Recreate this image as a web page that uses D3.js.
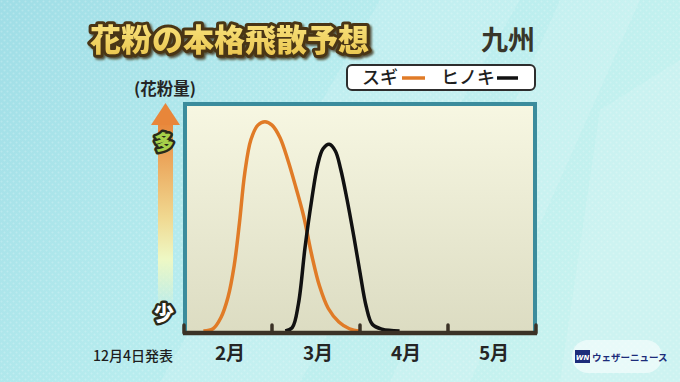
<!DOCTYPE html>
<html><head><meta charset="utf-8">
<script src="https://cdn.jsdelivr.net/npm/d3@7"></script>
<style>html,body{margin:0;padding:0;background:#b6e9ec;}svg{display:block;}</style>
</head><body>
<svg id="c" width="680" height="382"></svg>
<script>
const months = ["2月","3月","4月","5月"];
// x in month units from Feb 1 (0); values 0..100 relative pollen amount
const sugiX = [0.22,0.33,0.42,0.50,0.57,0.63,0.69,0.76,0.84,0.92,1.00,1.09,1.18,1.27,1.36,1.45,1.54,1.64,1.76,1.88,2.0];
const sugiV = [0,1,6,15,29,48,70,85,91.5,93,91.5,86,76,64,51,34,20,10,4,1,0];
const hinokiX = [1.15,1.23,1.30,1.375,1.45,1.52,1.58,1.65,1.72,1.78,1.85,1.93,2.00,2.07,2.14,2.25,2.45];
const hinokiV = [0,1.5,12,37,58,74,81,83,80,72,59,42,26,11,3,0.8,0];
const title = "花粉の本格飛散予想";
const region = "九州";
const seriesNames = ["スギ","ヒノキ"];
const yLabel = "(花粉量)";
const yHigh = "多", yLow = "少";
const dateNote = "12月4日発表";
const brand = "ウェザーニュース";

const svg = d3.select("#c");
const defs = svg.append("defs");
const JP = "'Noto Sans CJK JP','Noto Sans',sans-serif";

// background
const bg = defs.append("linearGradient").attr("id","bg").attr("x1","0").attr("y1","0").attr("x2","1").attr("y2","0.4");
bg.append("stop").attr("offset","0").attr("stop-color","#9fdde6");
bg.append("stop").attr("offset","0.5").attr("stop-color","#b7ecee");
bg.append("stop").attr("offset","1").attr("stop-color","#c6f2ef");
svg.append("rect").attr("width",680).attr("height",382).attr("fill","url(#bg)");
const pat = defs.append("pattern").attr("id","dots").attr("width",6).attr("height",6).attr("patternUnits","userSpaceOnUse");
pat.append("circle").attr("cx",1.5).attr("cy",1.5).attr("r",1).attr("fill","#ffffff").attr("opacity",0.35);
pat.append("circle").attr("cx",4.5).attr("cy",4.5).attr("r",1).attr("fill","#ffffff").attr("opacity",0.35);
svg.append("rect").attr("width",680).attr("height",382).attr("fill","url(#dots)").attr("opacity",0.6);
[[380,0,520,0,300,382,160,382],[560,0,640,0,470,382,390,382],[600,110,680,60,680,382,560,382]].forEach(p=>{
  svg.append("polygon").attr("points",[[p[0],p[1]],[p[2],p[3]],[p[4],p[5]],[p[6],p[7]]].map(d=>d.join(",")).join(" "))
    .attr("fill","#ffffff").attr("opacity",0.13);
});

// scales
const x = d3.scaleLinear().domain([0,4]).range([184,536]);
const y = d3.scaleLinear().domain([0,100]).range([331,106]);

const pf = defs.append("linearGradient").attr("id","pf").attr("x1",0).attr("y1",0).attr("x2",0).attr("y2",1);
pf.append("stop").attr("offset","0").attr("stop-color","#f7f7e2");
pf.append("stop").attr("offset","1").attr("stop-color","#dcdcc2");
svg.append("rect").attr("x",185).attr("y",104).attr("width",350).attr("height",229)
  .attr("fill","url(#pf)").attr("stroke","#3b8c9c").attr("stroke-width",4);

const line = d3.line().x(d=>x(d[0])).y(d=>y(d[1])).curve(d3.curveCatmullRom.alpha(0.5));
const g = svg.append("g");
g.append("path").datum(sugiX.map((v,i)=>[v,sugiV[i]])).attr("d",line)
  .attr("fill","none").attr("stroke","#e07b27").attr("stroke-width",3.5).attr("stroke-linejoin","round");
g.append("path").datum(hinokiX.map((v,i)=>[v,hinokiV[i]])).attr("d",line)
  .attr("fill","none").attr("stroke","#111111").attr("stroke-width",3.5).attr("stroke-linejoin","round");

// x axis
const ax = svg.append("g").attr("transform","translate(0,333)");
ax.append("line").attr("x1",x(0)-1).attr("x2",x(4)+1).attr("stroke","#3b3226").attr("stroke-width",4.5);
ax.selectAll("line.t").data(d3.range(0,5)).join("line").attr("class","t")
  .attr("x1",d=>x(d)).attr("x2",d=>x(d)).attr("y1",0).attr("y2",-8)
  .attr("stroke","#3b3226").attr("stroke-width",3.5).attr("stroke-linecap","round");
ax.selectAll("text").data(months).join("text")
  .attr("x",(d,i)=>x(i+0.5)+2).attr("y",27).attr("text-anchor","middle")
  .attr("font-family",JP).attr("font-weight",700).attr("font-size",19).attr("fill","#252525").text(d=>d);

// title
const tg = defs.append("linearGradient").attr("id","tg").attr("x1",0).attr("y1",0).attr("x2",0).attr("y2",1);
tg.append("stop").attr("offset","0").attr("stop-color","#fbe987");
tg.append("stop").attr("offset","1").attr("stop-color","#e9c24a");
const sh = defs.append("filter").attr("id","sh").attr("x","-10%").attr("y","-30%").attr("width","130%").attr("height","170%");
sh.append("feDropShadow").attr("dx",2).attr("dy",2).attr("stdDeviation",1).attr("flood-color","#3a2c10").attr("flood-opacity",0.8);
svg.append("text").attr("x",90).attr("y",51).text(title)
  .attr("font-family",JP).attr("font-weight",900).attr("font-size",31)
  .attr("fill","url(#tg)").attr("stroke","#4a3614").attr("stroke-width",6).attr("stroke-linejoin","round")
  .attr("paint-order","stroke").attr("filter","url(#sh)");

svg.append("text").attr("x",535).attr("y",50).attr("text-anchor","end").text(region)
  .attr("font-family",JP).attr("font-weight",700).attr("font-size",27).attr("fill","#38362a");

// legend
svg.append("rect").attr("x",347).attr("y",65).attr("width",188).attr("height",25).attr("rx",5)
  .attr("fill","#ffffff").attr("stroke","#2d2d2d").attr("stroke-width",2);
svg.append("text").attr("x",362).attr("y",84).text(seriesNames[0])
  .attr("font-family",JP).attr("font-weight",500).attr("font-size",18).attr("fill","#1e1e1e");
svg.append("line").attr("x1",402).attr("x2",425).attr("y1",78).attr("y2",78).attr("stroke","#e07b27").attr("stroke-width",3.5);
svg.append("text").attr("x",441).attr("y",84).text(seriesNames[1])
  .attr("font-family",JP).attr("font-weight",500).attr("font-size",18).attr("fill","#1e1e1e");
svg.append("line").attr("x1",497).attr("x2",518).attr("y1",78).attr("y2",78).attr("stroke","#111").attr("stroke-width",3.5);

// y label and arrow
svg.append("text").attr("x",165).attr("y",95).attr("text-anchor","middle").text(yLabel)
  .attr("font-family",JP).attr("font-weight",700).attr("font-size",16.5).attr("fill","#252525");
const ag = defs.append("linearGradient").attr("id","ag").attr("x1",0).attr("y1",0).attr("x2",0).attr("y2",1);
ag.append("stop").attr("offset","0").attr("stop-color","#e8863a");
ag.append("stop").attr("offset","0.5").attr("stop-color","#f0d890");
ag.append("stop").attr("offset","0.72").attr("stop-color","#eef8c4");
ag.append("stop").attr("offset","1").attr("stop-color","#eef8c4").attr("stop-opacity",0);
svg.append("rect").attr("x",158).attr("y",122).attr("width",15).attr("height",190).attr("fill","url(#ag)");
svg.append("polygon").attr("points","165.5,103 180,125 151,125").attr("fill","#e8863a");
svg.append("text").attr("x",164).attr("y",150).attr("text-anchor","middle").text(yHigh)
  .attr("font-family",JP).attr("font-weight",900).attr("font-size",20)
  .attr("fill","#a6d14a").attr("stroke","#2a2a1a").attr("stroke-width",5).attr("paint-order","stroke").attr("stroke-linejoin","round");
svg.append("text").attr("x",164).attr("y",321).attr("text-anchor","middle").text(yLow)
  .attr("font-family",JP).attr("font-weight",900).attr("font-size",20)
  .attr("fill","#ffffff").attr("stroke","#2a2a1a").attr("stroke-width",5).attr("paint-order","stroke").attr("stroke-linejoin","round");

// footer
svg.append("text").attr("x",93).attr("y",361).text(dateNote)
  .attr("font-family",JP).attr("font-weight",500).attr("font-size",14).attr("fill","#1e1e1e");
svg.append("rect").attr("x",572).attr("y",340).attr("width",90).attr("height",33).attr("rx",16)
  .attr("fill","#ffffff").attr("opacity",0.55);
svg.append("rect").attr("x",575).attr("y",350).attr("width",15).attr("height",13).attr("fill","#1c2c7a");
svg.append("text").attr("x",582.5).attr("y",360).attr("text-anchor","middle").text("WN")
  .attr("font-family","'DejaVu Sans',sans-serif").attr("font-weight",700).attr("font-size",7).attr("fill","#ffffff").attr("font-style","italic");
svg.append("text").attr("x",592).attr("y",361).text(brand)
  .attr("font-family",JP).attr("font-weight",700).attr("font-size",9.5).attr("fill","#1c2c7a");
</script>
</body></html>
